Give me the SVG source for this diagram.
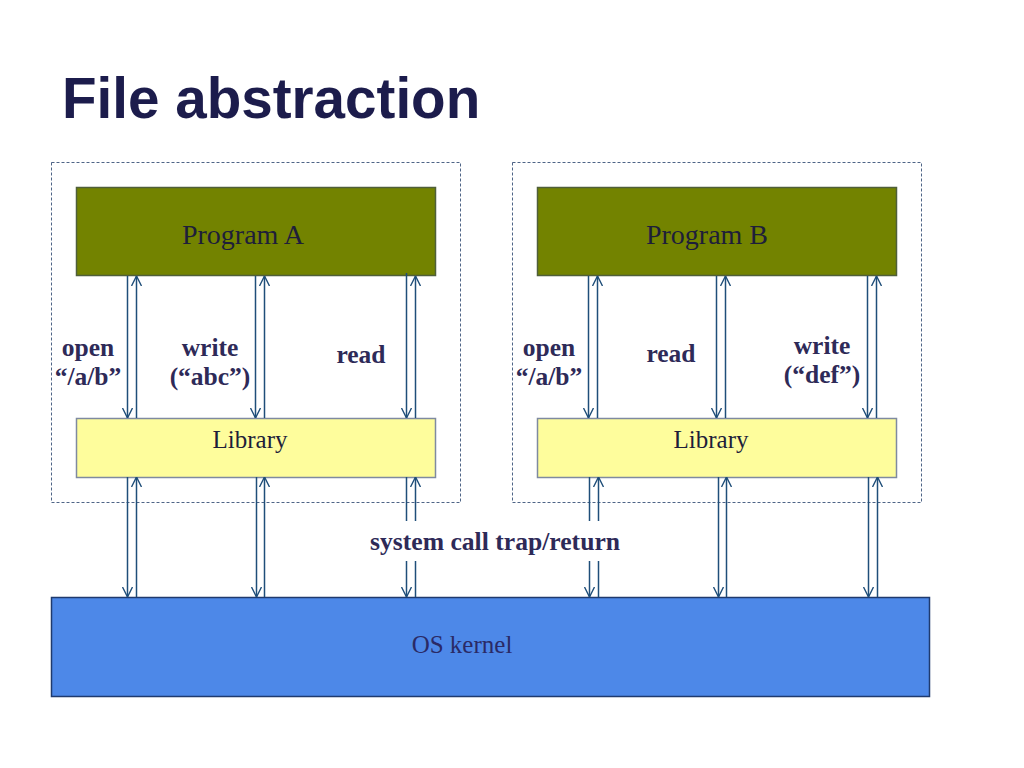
<svg xmlns="http://www.w3.org/2000/svg" width="1024" height="768" viewBox="0 0 1024 768">
<defs>
<marker id="ah" viewBox="0 0 10 10" refX="10" refY="5" markerWidth="10" markerHeight="11" markerUnits="userSpaceOnUse" orient="auto">
<path d="M0,0 L10,5 L0,10" fill="none" stroke="#1F4E79" stroke-width="1.4"/>
</marker>
</defs>
<style>
.title{font-family:"Liberation Sans",Arial,sans-serif;font-weight:bold;font-size:56.6px;fill:#1C1C4C}
.dash{fill:none;stroke:#4E6486;stroke-width:1;stroke-dasharray:3,2}
.prog{fill:#738300;stroke:#4F5F3A;stroke-width:1.5}
.lib{fill:#FEFD9C;stroke:#7F8AA0;stroke-width:1.5}
.kern{fill:#4D88E8;stroke:#1F3A6E;stroke-width:1.5}
.nt{font-family:"Liberation Serif","Times New Roman",serif;font-size:28px;fill:#1E1E3A;text-anchor:middle}
.lbl{font-family:"Liberation Serif","Times New Roman",serif;font-weight:bold;font-size:25.5px;fill:#2E2A58;text-anchor:middle}
.ln{stroke:#1F4E79;stroke-width:1.5;fill:none}
.arr{stroke:#1F4E79;stroke-width:1.5;fill:none;marker-end:url(#ah)}
</style>
<rect width="1024" height="768" fill="#FFFFFF"/>
<text class="title" x="62" y="118">File abstraction</text>

<g id="groupA"><rect class="dash" x="51.5" y="162.5" width="409" height="340"/></g>
<g id="groupB"><rect class="dash" x="512.5" y="162.5" width="409" height="340"/></g>

<g id="programA"><rect class="prog" x="76.5" y="187.5" width="359" height="88"/><text class="nt" x="243" y="244">Program A</text></g>
<g id="programB"><rect class="prog" x="537.5" y="187.5" width="359" height="88"/><text class="nt" x="707" y="244">Program B</text></g>
<g id="libraryA"><rect class="lib" x="76.5" y="418.5" width="359" height="59"/><text class="nt" x="250" y="448" style="font-size:25px">Library</text></g>
<g id="libraryB"><rect class="lib" x="537.5" y="418.5" width="359" height="59"/><text class="nt" x="711" y="448" style="font-size:25px">Library</text></g>
<g id="kernel"><rect class="kern" x="51.5" y="597.5" width="878" height="99"/><text class="nt" x="462" y="653" style="font-size:25px;fill:#2A2A66">OS kernel</text></g>

<g id="connectors">
<!-- A upper -->
<line class="arr" x1="127.5" y1="276" x2="127.5" y2="418"/>
<line class="arr" x1="136.5" y1="418" x2="136.5" y2="276"/>
<line class="arr" x1="255.5" y1="276" x2="255.5" y2="418"/>
<line class="arr" x1="264.5" y1="418" x2="264.5" y2="276"/>
<line class="arr" x1="406.5" y1="273" x2="406.5" y2="418"/>
<line class="arr" x1="415.5" y1="418" x2="415.5" y2="276"/>
<!-- B upper -->
<line class="arr" x1="588.5" y1="276" x2="588.5" y2="418"/>
<line class="arr" x1="597.5" y1="418" x2="597.5" y2="276"/>
<line class="arr" x1="716.5" y1="276" x2="716.5" y2="418"/>
<line class="arr" x1="725.5" y1="418" x2="725.5" y2="276"/>
<line class="arr" x1="867.5" y1="276" x2="867.5" y2="418"/>
<line class="arr" x1="876.5" y1="418" x2="876.5" y2="276"/>
<!-- A lower -->
<line class="arr" x1="127.5" y1="477" x2="127.5" y2="597"/>
<line class="arr" x1="136.5" y1="597" x2="136.5" y2="477"/>
<line class="arr" x1="256.5" y1="477" x2="256.5" y2="597"/>
<line class="arr" x1="264.5" y1="597" x2="264.5" y2="477"/>
<line class="ln" x1="406.5" y1="477" x2="406.5" y2="521"/>
<line class="arr" x1="406.5" y1="561" x2="406.5" y2="597"/>
<line class="ln" x1="415.5" y1="597" x2="415.5" y2="561"/>
<line class="arr" x1="415.5" y1="521" x2="415.5" y2="477"/>
<!-- B lower -->
<line class="ln" x1="589.5" y1="477" x2="589.5" y2="521"/>
<line class="arr" x1="589.5" y1="561" x2="589.5" y2="597"/>
<line class="ln" x1="598.5" y1="597" x2="598.5" y2="561"/>
<line class="arr" x1="598.5" y1="521" x2="598.5" y2="477"/>
<line class="arr" x1="718.5" y1="477" x2="718.5" y2="597"/>
<line class="arr" x1="726.5" y1="597" x2="726.5" y2="477"/>
<line class="arr" x1="868.5" y1="477" x2="868.5" y2="597"/>
<line class="arr" x1="877.5" y1="597" x2="877.5" y2="477"/>
</g>

<g id="labels">
<text class="lbl" x="88" y="356">open</text>
<text class="lbl" x="88" y="385">“/a/b”</text>
<text class="lbl" x="210" y="356">write</text>
<text class="lbl" x="210" y="385">(“abc”)</text>
<text class="lbl" x="361" y="363">read</text>
<text class="lbl" x="549" y="356">open</text>
<text class="lbl" x="549" y="385">“/a/b”</text>
<text class="lbl" x="671" y="362">read</text>
<text class="lbl" x="822" y="354">write</text>
<text class="lbl" x="822" y="383">(“def”)</text>
<text class="lbl" x="495" y="550" textLength="250" lengthAdjust="spacingAndGlyphs">system call trap/return</text>
</g>
</svg>
